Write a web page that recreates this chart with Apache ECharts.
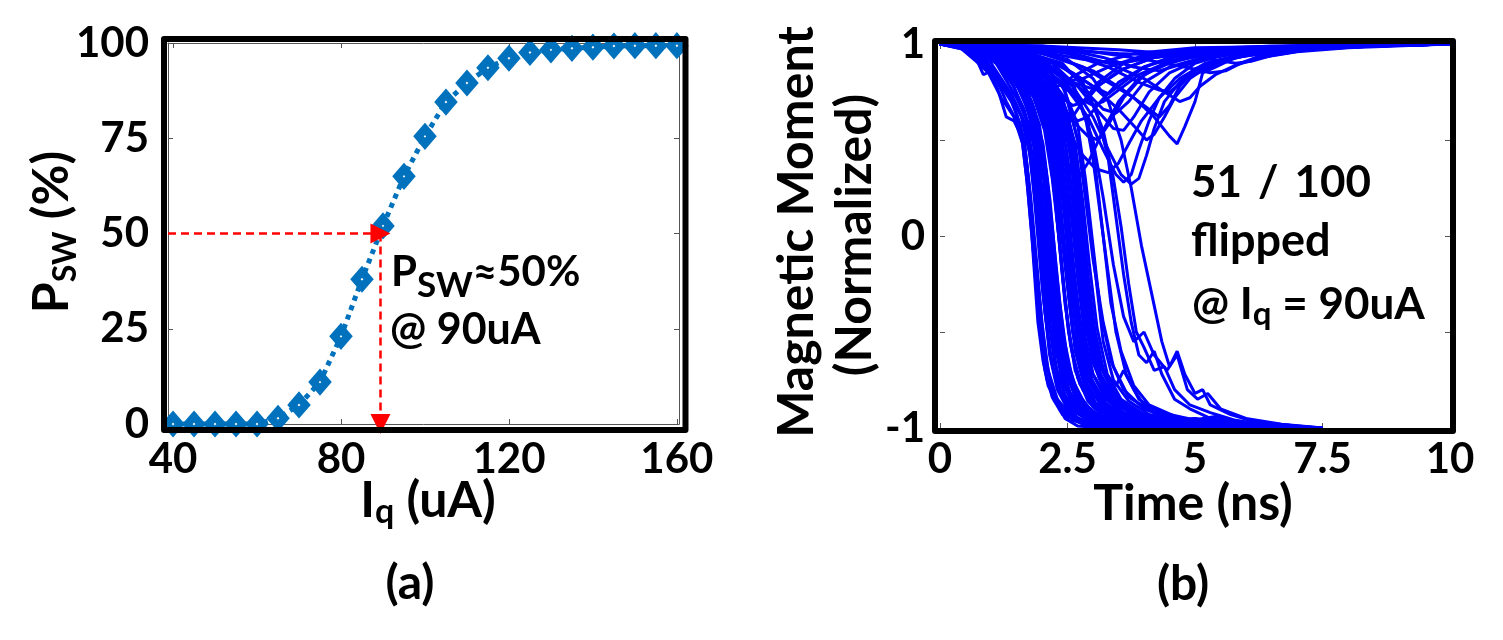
<!DOCTYPE html>
<html><head><meta charset="utf-8">
<script src="https://cdn.jsdelivr.net/npm/echarts@6/dist/echarts.min.js"></script>
<style>html,body{margin:0;padding:0;background:#fff}#c{width:1503px;height:640px}</style>
</head><body><div id="c"></div>
<script>
// ---------- Panel (a) data ----------
const currentUA = [40,45,50,55,60,65,70,75,80,85,90,95,100,105,110,115,120,125,130,135,140,145,150,155,160];
const pswPercent = [0,0,0,0,0,1.5,5,11,23,38,52,65,75.5,84.5,89.5,93.5,96,97.5,98.2,98.6,98.9,99.2,99.3,99.3,99.3];
const xTicksA = [40,80,120,160];
const arrowX = 89.4, arrowY = 50;

// ---------- Panel (b) data: trajectories [time ns, normalized moment] ----------
const flippedRuns = [
 [[0,1],[0.4,0.99],[0.7,0.93],[0.85,0.84],[1.0,0.86],[1.15,0.75],[1.3,0.62],[1.45,0.6],[1.6,0.52],[1.7,0.3],[1.8,0.0],[1.92,-0.45],[2.02,-0.65],[2.12,-0.78],[2.3,-0.87],[2.45,-0.95],[2.7,-0.99],[3.2,-1],[4,-1],[5,-1],[6,-1]],
 [[0,1],[0.5,0.98],[0.8,0.9],[1.1,0.82],[1.3,0.7],[1.5,0.6],[1.65,0.5],[1.75,0.25],[1.9,-0.2],[2.05,-0.6],[2.2,-0.8],[2.4,-0.9],[2.6,-0.96],[3.0,-0.99],[4.5,-1],[6.2,-1]],
 [[0,1],[0.6,0.98],[1.0,0.9],[1.3,0.78],[1.6,0.62],[1.75,0.45],[1.85,0.2],[2.0,-0.25],[2.15,-0.62],[2.3,-0.8],[2.5,-0.9],[2.8,-0.97],[3.5,-0.99],[5,-1],[6.5,-1]],
 [[0,1],[0.7,0.97],[1.1,0.9],[1.5,0.72],[1.8,0.55],[1.95,0.3],[2.1,-0.1],[2.25,-0.5],[2.4,-0.75],[2.6,-0.88],[2.9,-0.95],[3.4,-0.99],[5.5,-1],[6.8,-1]],
 [[0,1],[0.8,0.97],[1.3,0.88],[1.7,0.7],[1.95,0.5],[2.1,0.2],[2.25,-0.2],[2.4,-0.55],[2.55,-0.75],[2.8,-0.88],[3.1,-0.95],[3.6,-0.99],[5.2,-1],[7.0,-1]],
 [[0,1],[0.9,0.97],[1.4,0.9],[1.8,0.75],[2.05,0.55],[2.2,0.3],[2.35,-0.05],[2.5,-0.45],[2.65,-0.7],[2.9,-0.86],[3.2,-0.94],[3.8,-0.98],[5.0,-1],[6.6,-1]],
 [[0,1],[1.0,0.97],[1.5,0.88],[1.9,0.72],[2.15,0.5],[2.3,0.2],[2.45,-0.15],[2.6,-0.5],[2.8,-0.74],[3.0,-0.86],[3.4,-0.94],[4.0,-0.98],[5.5,-1],[7.2,-1]],
 [[0,1],[1.0,0.98],[1.6,0.9],[2.0,0.75],[2.25,0.55],[2.4,0.25],[2.55,-0.1],[2.7,-0.45],[2.9,-0.7],[3.15,-0.85],[3.5,-0.93],[4.1,-0.98],[6.0,-1],[7.4,-1]],
 [[0,1],[1.1,0.98],[1.7,0.9],[2.1,0.76],[2.35,0.58],[2.5,0.3],[2.65,-0.05],[2.8,-0.4],[3.0,-0.66],[3.25,-0.82],[3.6,-0.92],[4.3,-0.97],[5.8,-1],[7.0,-1]],
 [[0,1],[1.2,0.98],[1.8,0.9],[2.2,0.78],[2.45,0.6],[2.6,0.35],[2.75,0.0],[2.9,-0.35],[3.1,-0.62],[3.35,-0.8],[3.7,-0.91],[4.4,-0.97],[6.0,-1],[7.5,-1]],
 [[0,1],[1.2,0.97],[1.9,0.88],[2.3,0.75],[2.55,0.55],[2.7,0.25],[2.85,-0.1],[3.0,-0.45],[3.2,-0.7],[3.45,-0.78],[3.6,-0.7],[3.8,-0.8],[4.0,-0.88],[4.5,-0.93],[5.2,-0.97],[6.3,-1]],
 [[0,1],[1.3,0.98],[2.0,0.9],[2.4,0.78],[2.7,0.58],[2.85,0.3],[3.0,-0.05],[3.15,-0.4],[3.35,-0.65],[3.6,-0.8],[4.0,-0.9],[4.6,-0.96],[5.5,-0.99],[7.0,-1]],
 [[0,1],[1.4,0.98],[2.1,0.9],[2.6,0.78],[2.9,0.6],[3.05,0.35],[3.2,0.0],[3.35,-0.35],[3.55,-0.6],[3.8,-0.78],[4.1,-0.88],[4.7,-0.95],[5.6,-0.99],[7.2,-1]],
 [[0,1],[1.5,0.98],[2.3,0.9],[2.8,0.8],[3.1,0.62],[3.3,0.4],[3.45,0.1],[3.6,-0.2],[3.75,-0.45],[3.9,-0.62],[4.05,-0.66],[4.2,-0.6],[4.35,-0.72],[4.6,-0.85],[4.9,-0.9],[5.3,-0.95],[6.0,-0.98],[7.3,-1]],
 [[0,1],[1.6,0.98],[2.5,0.92],[3.0,0.82],[3.3,0.7],[3.55,0.5],[3.75,0.25],[3.95,-0.05],[4.15,-0.3],[4.35,-0.55],[4.5,-0.68],[4.65,-0.6],[4.8,-0.72],[5.0,-0.82],[5.15,-0.8],[5.3,-0.88],[5.7,-0.93],[6.2,-0.97],[7.0,-0.99],[7.5,-1]],
 [[0,1],[1.5,0.97],[2.4,0.9],[2.9,0.75],[3.2,0.55],[3.4,0.3],[3.55,0.05],[3.7,-0.25],[3.85,-0.5],[4.0,-0.58],[4.2,-0.7],[4.4,-0.68],[4.6,-0.8],[4.9,-0.88],[5.3,-0.92],[5.8,-0.96],[6.5,-0.99],[7.4,-1]],
 [[0,1],[1.1,0.97],[1.7,0.87],[2.0,0.7],[2.2,0.48],[2.35,0.15],[2.5,-0.25],[2.65,-0.6],[2.85,-0.8],[3.1,-0.9],[3.5,-0.96],[4.2,-0.99],[6.1,-1]],
 [[0,1],[0.9,0.96],[1.5,0.85],[1.85,0.65],[2.05,0.4],[2.2,0.05],[2.35,-0.35],[2.5,-0.65],[2.7,-0.82],[3.0,-0.92],[3.5,-0.97],[4.5,-1],[6.4,-1]],
 [[0,1],[1.2,0.98],[2.0,0.88],[2.5,0.7],[2.75,0.45],[2.9,0.15],[3.05,-0.2],[3.2,-0.55],[3.4,-0.75],[3.7,-0.86],[4.1,-0.93],[4.8,-0.97],[5.8,-0.99],[6.9,-1]],
 [[0,1],[1.4,0.97],[2.2,0.88],[2.7,0.72],[3.0,0.5],[3.2,0.2],[3.4,-0.15],[3.6,-0.42],[3.8,-0.55],[4.0,-0.5],[4.2,-0.62],[4.45,-0.7],[4.65,-0.62],[4.85,-0.8],[5.05,-0.85],[5.25,-0.82],[5.5,-0.9],[6.0,-0.95],[6.7,-0.98],[7.5,-1]],
 [[0,1],[1.3,0.98],[2.2,0.9],[2.6,0.8],[2.85,0.62],[3.0,0.4],[3.15,0.1],[3.3,-0.2],[3.45,-0.5],[3.65,-0.72],[3.9,-0.85],[4.3,-0.92],[5.0,-0.97],[6.2,-1]],
 [[0,1],[0.8,0.96],[1.4,0.86],[1.75,0.68],[1.9,0.45],[2.05,0.1],[2.2,-0.3],[2.35,-0.62],[2.5,-0.8],[2.75,-0.9],[3.1,-0.96],[4.0,-0.99],[5.5,-1]],
 [[0,1],[1.0,0.97],[1.6,0.88],[2.0,0.72],[2.25,0.45],[2.45,0.12],[2.6,-0.2],[2.8,-0.52],[3.0,-0.72],[3.3,-0.85],[3.8,-0.93],[4.5,-0.97],[5.5,-0.99],[6.8,-1]],
 [[0,1],[1.3,0.98],[2.0,0.9],[2.45,0.76],[2.7,0.5],[2.85,0.2],[3.0,-0.12],[3.2,-0.45],[3.4,-0.68],[3.7,-0.84],[4.2,-0.92],[5.0,-0.97],[6.0,-0.99],[7.3,-1]],
 [[0,1],[0.5,0.98],[0.9,0.9],[1.2,0.8],[1.45,0.68],[1.65,0.5],[1.78,0.2],[1.9,-0.15],[2.0,-0.45],[2.12,-0.7],[2.3,-0.85],[2.55,-0.93],[3.0,-0.98],[4.0,-1],[5.8,-1]],
 [[0,1],[0.6,0.97],[1.0,0.88],[1.35,0.76],[1.6,0.62],[1.78,0.4],[1.9,0.1],[2.02,-0.3],[2.15,-0.6],[2.3,-0.78],[2.55,-0.9],[2.9,-0.96],[3.6,-0.99],[6.0,-1]],
 [[0,1],[0.7,0.98],[1.1,0.9],[1.45,0.78],[1.7,0.6],[1.85,0.35],[1.97,0.02],[2.1,-0.38],[2.25,-0.66],[2.45,-0.83],[2.7,-0.92],[3.1,-0.97],[4.2,-1],[6.3,-1]],
 [[0,1],[0.6,0.99],[1.2,0.92],[1.55,0.8],[1.8,0.62],[1.95,0.38],[2.07,0.05],[2.2,-0.35],[2.35,-0.63],[2.55,-0.82],[2.85,-0.92],[3.3,-0.97],[4.4,-1],[6.6,-1]],
 [[0,1],[0.8,0.98],[1.2,0.9],[1.6,0.78],[1.88,0.58],[2.03,0.3],[2.15,-0.05],[2.28,-0.42],[2.43,-0.68],[2.65,-0.84],[2.95,-0.93],[3.5,-0.98],[4.6,-1],[6.9,-1]],
 [[0,1],[0.9,0.98],[1.35,0.9],[1.7,0.77],[1.95,0.58],[2.1,0.3],[2.22,-0.05],[2.35,-0.42],[2.5,-0.68],[2.72,-0.84],[3.05,-0.93],[3.6,-0.98],[5.0,-1],[7.1,-1]],
 [[0,1],[0.9,0.97],[1.4,0.87],[1.8,0.7],[2.02,0.48],[2.16,0.18],[2.28,-0.18],[2.42,-0.52],[2.6,-0.75],[2.85,-0.88],[3.2,-0.95],[3.9,-0.99],[5.3,-1],[6.4,-1]],
 [[0,1],[1.0,0.98],[1.5,0.89],[1.85,0.74],[2.1,0.52],[2.25,0.22],[2.38,-0.15],[2.52,-0.5],[2.7,-0.74],[2.95,-0.87],[3.3,-0.94],[4.0,-0.98],[5.6,-1],[7.3,-1]],
 [[0,1],[1.0,0.97],[1.55,0.88],[1.95,0.72],[2.2,0.5],[2.35,0.2],[2.48,-0.15],[2.62,-0.5],[2.8,-0.73],[3.05,-0.87],[3.4,-0.94],[4.1,-0.98],[5.5,-1],[6.7,-1]],
 [[0,1],[1.1,0.98],[1.6,0.9],[2.0,0.75],[2.28,0.52],[2.43,0.22],[2.56,-0.12],[2.7,-0.46],[2.88,-0.7],[3.12,-0.85],[3.5,-0.93],[4.2,-0.98],[5.0,-0.95],[5.8,-0.99],[7.0,-1]],
 [[0,1],[1.1,0.97],[1.7,0.88],[2.1,0.72],[2.35,0.5],[2.5,0.18],[2.63,-0.18],[2.78,-0.52],[2.98,-0.75],[3.25,-0.87],[3.65,-0.94],[4.4,-0.98],[6.0,-1],[7.2,-1]],
 [[0,1],[1.2,0.98],[1.75,0.9],[2.15,0.76],[2.42,0.55],[2.58,0.25],[2.7,-0.08],[2.85,-0.42],[3.05,-0.68],[3.3,-0.83],[3.7,-0.92],[4.4,-0.97],[5.0,-0.95],[5.6,-0.99],[6.2,-0.97],[7.4,-1]],
 [[0,1],[1.2,0.97],[1.8,0.87],[2.2,0.7],[2.48,0.45],[2.62,0.15],[2.76,-0.2],[2.92,-0.52],[3.12,-0.74],[3.4,-0.86],[3.8,-0.93],[4.6,-0.97],[6.2,-1]],
 [[0,1],[1.3,0.98],[1.9,0.89],[2.3,0.74],[2.55,0.52],[2.7,0.22],[2.83,-0.1],[2.98,-0.45],[3.18,-0.7],[3.45,-0.84],[3.9,-0.92],[4.7,-0.97],[5.4,-0.94],[6.4,-1]],
 [[0,1],[0.4,0.98],[0.75,0.9],[0.95,0.85],[1.2,0.72],[1.45,0.62],[1.62,0.48],[1.72,0.25],[1.83,-0.08],[1.95,-0.48],[2.06,-0.7],[2.2,-0.84],[2.4,-0.93],[2.8,-0.98],[3.5,-1],[5.2,-1]],
 [[0,1],[0.7,0.96],[1.05,0.86],[1.4,0.74],[1.68,0.58],[1.82,0.36],[1.94,0.0],[2.06,-0.4],[2.2,-0.67],[2.38,-0.82],[2.65,-0.92],[3.1,-0.97],[4.0,-1],[6.1,-1]],
 [[0,1],[0.8,0.97],[1.25,0.88],[1.62,0.74],[1.86,0.52],[2.0,0.22],[2.12,-0.15],[2.25,-0.5],[2.42,-0.74],[2.65,-0.87],[3.0,-0.94],[3.7,-0.98],[5.0,-1],[6.9,-1]],
 [[0,1],[1.0,0.98],[1.45,0.9],[1.8,0.78],[2.05,0.6],[2.2,0.35],[2.32,0.02],[2.45,-0.35],[2.6,-0.62],[2.8,-0.8],[3.1,-0.9],[3.6,-0.96],[4.8,-0.99],[6.5,-1]],
 [[0,1],[1.1,0.98],[1.65,0.88],[2.05,0.72],[2.3,0.48],[2.45,0.15],[2.58,-0.22],[2.73,-0.55],[2.92,-0.76],[3.2,-0.88],[3.6,-0.95],[4.3,-0.98],[5.7,-1],[7.1,-1]],
 [[0,1],[1.2,0.97],[1.85,0.88],[2.25,0.72],[2.52,0.5],[2.66,0.2],[2.8,-0.15],[2.95,-0.48],[3.15,-0.72],[3.42,-0.85],[3.85,-0.93],[4.6,-0.97],[5.3,-0.95],[6.0,-1],[7.5,-1]],
 [[0,1],[1.3,0.98],[2.0,0.88],[2.4,0.72],[2.65,0.48],[2.8,0.18],[2.93,-0.15],[3.08,-0.48],[3.28,-0.72],[3.55,-0.85],[4.0,-0.93],[4.8,-0.97],[6.2,-1],[7.3,-1]],
 [[0,1],[0.9,0.97],[1.3,0.9],[1.65,0.77],[1.9,0.6],[2.05,0.35],[2.17,0.0],[2.3,-0.38],[2.46,-0.66],[2.68,-0.83],[3.0,-0.92],[3.5,-0.97],[4.5,-0.99],[6.3,-1]],
 [[0,1],[0.5,0.97],[0.85,0.9],[1.15,0.8],[1.4,0.7],[1.58,0.58],[1.7,0.38],[1.8,0.1],[1.9,-0.3],[2.0,-0.58],[2.1,-0.75],[2.25,-0.86],[2.5,-0.94],[2.9,-0.98],[3.8,-1],[5.6,-1]],
 [[0,1],[0.6,0.98],[1.05,0.92],[1.4,0.8],[1.65,0.66],[1.83,0.48],[1.95,0.2],[2.05,-0.12],[2.17,-0.48],[2.3,-0.72],[2.5,-0.86],[2.8,-0.94],[3.3,-0.98],[4.5,-1],[6.0,-1]],
 [[0,1],[0.8,0.97],[1.25,0.9],[1.6,0.8],[1.85,0.66],[2.02,0.45],[2.14,0.15],[2.25,-0.2],[2.38,-0.55],[2.55,-0.77],[2.8,-0.89],[3.2,-0.95],[3.9,-0.99],[5.4,-1],[6.7,-1]],
 [[0,1],[0.9,0.98],[1.4,0.91],[1.75,0.8],[2.0,0.64],[2.17,0.42],[2.3,0.1],[2.42,-0.25],[2.56,-0.57],[2.74,-0.77],[3.0,-0.89],[3.4,-0.95],[4.2,-0.99],[5.5,-1],[7.0,-1]],
 [[0,1],[1.0,0.97],[1.5,0.9],[1.9,0.78],[2.15,0.62],[2.32,0.4],[2.44,0.1],[2.56,-0.25],[2.7,-0.56],[2.88,-0.77],[3.15,-0.88],[3.55,-0.95],[4.3,-0.99],[5.9,-1],[7.2,-1]],
 [[0,1],[1.1,0.98],[1.6,0.9],[2.0,0.78],[2.27,0.62],[2.45,0.4],[2.58,0.1],[2.7,-0.22],[2.84,-0.52],[3.0,-0.72],[3.25,-0.85],[3.65,-0.93],[4.4,-0.98],[5.2,-0.96],[6.0,-1],[7.3,-1]],
 [[0,1],[1.2,0.98],[1.7,0.9],[2.1,0.79],[2.38,0.64],[2.56,0.42],[2.68,0.12],[2.8,-0.2],[2.95,-0.5],[3.12,-0.72],[3.38,-0.85],[3.8,-0.93],[4.6,-0.98],[6.1,-1],[7.5,-1]],
 [[0,1],[0.7,0.98],[1.15,0.9],[1.5,0.79],[1.75,0.64],[1.9,0.45],[2.01,0.15],[2.12,-0.22],[2.25,-0.56],[2.4,-0.76],[2.62,-0.88],[2.95,-0.95],[3.6,-0.99],[5.0,-1],[6.2,-1]],
 [[0,1],[1.0,0.98],[1.55,0.91],[1.95,0.8],[2.22,0.64],[2.38,0.42],[2.5,0.12],[2.62,-0.22],[2.76,-0.54],[2.94,-0.75],[3.2,-0.87],[3.6,-0.94],[4.3,-0.98],[5.6,-1],[6.9,-1]],
 [[0,1],[1.3,0.98],[1.85,0.91],[2.25,0.8],[2.5,0.64],[2.66,0.42],[2.78,0.12],[2.9,-0.2],[3.04,-0.5],[3.22,-0.72],[3.5,-0.85],[3.95,-0.93],[4.8,-0.98],[6.3,-1]]
];
const unflippedRuns = [
 [[0,1],[1.0,0.99],[2.0,0.95],[2.8,0.88],[3.3,0.8],[3.8,0.72],[4.2,0.62],[4.5,0.52],[4.65,0.48],[4.8,0.57],[5.0,0.7],[5.15,0.85],[5.4,0.88],[5.8,0.93],[6.3,0.95],[7.3,0.98],[8.5,0.99],[10,1]],
 [[0,1],[1.2,0.99],[2.2,0.94],[3.0,0.86],[3.6,0.76],[4.0,0.68],[4.3,0.62],[4.5,0.68],[4.7,0.78],[4.9,0.84],[5.2,0.86],[5.5,0.91],[6.0,0.95],[7.0,0.98],[8.0,0.99],[10,1]],
 [[0,1],[1.0,0.98],[1.8,0.92],[2.4,0.8],[2.9,0.62],[3.2,0.45],[3.45,0.32],[3.6,0.28],[3.75,0.32],[3.9,0.45],[4.1,0.6],[4.3,0.72],[4.6,0.82],[5.0,0.9],[5.5,0.94],[6.5,0.97],[8,0.99],[10,1]],
 [[0,1],[1.2,0.98],[2.0,0.9],[2.6,0.78],[3.0,0.62],[3.3,0.45],[3.55,0.32],[3.75,0.27],[3.9,0.3],[4.05,0.42],[4.2,0.56],[4.4,0.7],[4.7,0.8],[5.0,0.87],[5.5,0.92],[6.2,0.96],[7.5,0.99],[10,1]],
 [[0,1],[1.0,0.99],[2.0,0.93],[2.6,0.85],[3.0,0.78],[3.3,0.74],[3.6,0.8],[4.0,0.88],[4.5,0.93],[5.2,0.96],[6.5,0.98],[8,0.99],[10,1]],
 [[0,1],[0.9,0.98],[1.6,0.9],[2.2,0.75],[2.6,0.6],[2.9,0.52],[3.1,0.5],[3.3,0.58],[3.6,0.72],[4.0,0.84],[4.5,0.9],[5.2,0.95],[6.3,0.98],[8,1],[10,1]],
 [[0,1],[0.8,0.97],[1.4,0.88],[1.9,0.7],[2.3,0.5],[2.55,0.35],[2.7,0.3],[2.9,0.38],[3.2,0.55],[3.5,0.7],[3.9,0.82],[4.4,0.9],[5.0,0.95],[6.0,0.98],[7.5,0.99],[10,1]],
 [[0,1],[1.5,0.99],[2.5,0.96],[3.3,0.9],[4.0,0.82],[4.4,0.75],[4.7,0.7],[4.9,0.72],[5.1,0.78],[5.4,0.84],[5.8,0.89],[6.3,0.93],[7.0,0.96],[8.0,0.98],[10,1]],
 [[0,1],[2,0.99],[3,0.96],[4,0.92],[4.8,0.88],[5.3,0.85],[5.6,0.86],[5.9,0.9],[6.3,0.94],[7,0.97],[8.5,0.99],[10,1]],
 [[0,1],[1.3,0.98],[2.3,0.9],[3.0,0.78],[3.5,0.66],[3.85,0.56],[4.05,0.5],[4.2,0.53],[4.4,0.62],[4.6,0.72],[4.9,0.82],[5.3,0.89],[5.8,0.93],[6.8,0.97],[8.5,0.99],[10,1]],
 [[0,1],[1.5,0.99],[2.5,0.95],[3.3,0.88],[3.9,0.8],[4.3,0.76],[4.5,0.75],[4.7,0.79],[5.0,0.86],[5.4,0.9],[6.0,0.94],[7.0,0.97],[8.5,0.99],[10,1]],
 [[0,1],[1,0.99],[2,0.96],[2.8,0.92],[3.5,0.9],[4.2,0.93],[5,0.96],[6,0.98],[7.5,0.99],[10,1]],
 [[0,1],[1.5,0.99],[2.5,0.97],[3.2,0.93],[3.8,0.88],[4.3,0.86],[4.8,0.9],[5.5,0.95],[6.5,0.98],[8,0.99],[10,1]],
 [[0,1],[0.8,0.98],[1.5,0.93],[2.0,0.85],[2.4,0.8],[2.8,0.82],[3.3,0.88],[4.0,0.94],[5,0.97],[6.5,0.99],[10,1]],
 [[0,1],[1.2,0.99],[2.2,0.97],[3.5,0.95],[4.5,0.94],[5.5,0.96],[6.3,0.97],[7.0,0.98],[8.0,0.99],[10,1]],
 [[0,1],[1.2,0.98],[2.1,0.9],[2.7,0.78],[3.1,0.65],[3.4,0.56],[3.6,0.55],[3.8,0.62],[4.1,0.75],[4.5,0.85],[5.0,0.91],[5.8,0.95],[7.0,0.98],[10,1]],
 [[0,1],[0.9,0.97],[1.6,0.88],[2.1,0.72],[2.5,0.55],[2.8,0.42],[3.05,0.35],[3.3,0.33],[3.5,0.38],[3.7,0.48],[3.95,0.6],[4.3,0.72],[4.7,0.82],[5.2,0.9],[6,0.95],[7.5,0.98],[10,1]],
 [[0,1],[2,0.99],[3.5,0.97],[4.5,0.95],[5.3,0.92],[5.8,0.9],[6.1,0.91],[6.5,0.94],[7.2,0.97],[8.5,0.99],[10,1]],
 [[0,1],[0.7,0.98],[1.2,0.92],[1.6,0.82],[1.9,0.7],[2.15,0.6],[2.35,0.55],[2.5,0.58],[2.75,0.68],[3.1,0.8],[3.6,0.9],[4.3,0.95],[5.5,0.98],[7,0.99],[10,1]],
 [[0,1],[0.9,0.98],[1.5,0.9],[2.0,0.78],[2.4,0.66],[2.7,0.6],[2.9,0.62],[3.15,0.7],[3.5,0.8],[4.0,0.88],[4.7,0.94],[6.0,0.98],[10,1]],
 [[0,1],[1.1,0.98],[1.8,0.9],[2.3,0.8],[2.7,0.72],[3.0,0.68],[3.2,0.7],[3.5,0.76],[3.9,0.84],[4.5,0.91],[5.4,0.95],[7.0,0.98],[10,1]],
 [[0,1],[0.6,0.98],[1.0,0.93],[1.4,0.85],[1.7,0.78],[1.95,0.74],[2.2,0.76],[2.6,0.83],[3.1,0.9],[3.8,0.95],[5.0,0.98],[10,1]],
 [[0,1],[1.0,0.98],[1.7,0.93],[2.2,0.86],[2.6,0.8],[2.95,0.77],[3.2,0.8],[3.6,0.87],[4.2,0.93],[5.2,0.97],[7,0.99],[10,1]],
 [[0,1],[1.2,0.98],[2.0,0.9],[2.5,0.82],[2.9,0.74],[3.2,0.66],[3.45,0.64],[3.7,0.7],[4.0,0.8],[4.5,0.88],[5.3,0.94],[7,0.98],[10,1]],
 [[0,1],[0.8,0.98],[1.4,0.92],[1.9,0.84],[2.3,0.74],[2.6,0.68],[2.85,0.7],[3.1,0.78],[3.5,0.86],[4.2,0.93],[5.5,0.97],[10,1]]
];

// ---------- layout / style ----------
const FONT = 'Lato';
const GA = {left:168, top:43, width:511, height:381};
const GB = {left:940, top:44, width:510, height:384};
const BLUE_A = '#0072BD', BLUE_B = '#0000FF';

function subRich(M, s, d) {
  const p = d + 0.8 * (M - s);
  return {
    m: {fontFamily: FONT, fontWeight: 'bold', fontSize: M, lineHeight: M, verticalAlign: 'top', fill: '#000'},
    w: {fontFamily: FONT, fontWeight: 'bold', fontSize: M, lineHeight: M, verticalAlign: 'top', fill: '#000', padding: [0, 16, 0, 16]},
    s: {fontFamily: FONT, fontWeight: 'bold', fontSize: s, lineHeight: s, verticalAlign: 'top', padding: [p, 0, 0, 0], fill: '#000'}
  };
}
function txt(x, y, text, M, opts) {
  opts = opts || {};
  return {
    type: 'text', x: x, y: y, rotation: opts.rot || 0, z: 200, silent: true,
    style: {
      text: text, rich: subRich(M, opts.s || 30, opts.d || 6),
      align: opts.align || 'center', verticalAlign: 'middle'
    }
  };
}
const labelStyle = {fontFamily: FONT, fontWeight: 'bold', fontSize: 42, color: '#000'};
const tickStyle = {lineStyle: {color: '#555', width: 1}};

const series = [];
series.push({
  type: 'line', xAxisIndex: 0, yAxisIndex: 0, clip: false, z: 3, animation: false,
  data: currentUA.map((x, i) => [x, pswPercent[i]]),
  symbol: 'diamond', symbolSize: [13, 15], showAllSymbol: true,
  itemStyle: {color: '#fff', borderColor: BLUE_A, borderWidth: 8},
  lineStyle: {color: BLUE_A, width: 5, type: [5, 5]},
  markLine: {
    silent: true, animation: false, symbol: ['none', 'triangle'], symbolSize: 20,
    label: {show: false},
    lineStyle: {color: '#FF0000', width: 2.5, type: [8, 5]},
    emphasis: {disabled: true},
    data: [
      [{coord: [38.8, arrowY]}, {coord: [arrowX, arrowY]}],
      [{coord: [arrowX, arrowY]}, {coord: [arrowX, 0]}]
    ]
  }
});
flippedRuns.concat(unflippedRuns).forEach(run => {
  series.push({
    type: 'line', xAxisIndex: 2, yAxisIndex: 2, data: run, symbol: 'none', silent: true,
    animation: false, z: 2, lineStyle: {color: BLUE_B, width: 3}
  });
});

const noLine = {show: false, onZero: false};
const thinLine = {show: true, onZero: false, lineStyle: {color: '#555', width: 1}};
const option = {
  backgroundColor: '#fff',
  animation: false,
  grid: [
    Object.assign({outerBoundsMode: 'none', containLabel: false}, GA),
    Object.assign({outerBoundsMode: 'none', containLabel: false}, GB)
  ],
  xAxis: [
    {gridIndex: 0, type: 'value', min: 38.8, max: 160.5, position: 'bottom', axisLine: thinLine,
     axisTick: Object.assign({inside: true, length: 5, customValues: xTicksA}, tickStyle),
     axisLabel: Object.assign({margin: 14, customValues: xTicksA}, labelStyle),
     splitLine: {show: false}},
    {gridIndex: 0, type: 'value', min: 38.8, max: 160.5, position: 'top', axisLine: thinLine,
     axisTick: Object.assign({inside: true, length: 5, customValues: xTicksA}, tickStyle),
     axisLabel: {show: false}, splitLine: {show: false}},
    {gridIndex: 1, type: 'value', min: 0, max: 10, interval: 2.5, position: 'bottom', axisLine: noLine,
     axisTick: Object.assign({inside: true, length: 5}, tickStyle),
     axisLabel: Object.assign({margin: 10}, labelStyle), splitLine: {show: false}},
    {gridIndex: 1, type: 'value', min: 0, max: 10, interval: 2.5, position: 'top', axisLine: noLine,
     axisTick: Object.assign({inside: true, length: 5}, tickStyle),
     axisLabel: {show: false}, splitLine: {show: false}}
  ],
  yAxis: [
    {gridIndex: 0, type: 'value', min: 0, max: 100, interval: 25, position: 'left', axisLine: thinLine,
     axisTick: Object.assign({show: true, inside: true, length: 5}, tickStyle),
     axisLabel: Object.assign({margin: 19}, labelStyle), splitLine: {show: false}},
    {gridIndex: 0, type: 'value', min: 0, max: 100, interval: 25, position: 'right', axisLine: thinLine,
     axisTick: Object.assign({show: true, inside: true, length: 5}, tickStyle),
     axisLabel: {show: false}, splitLine: {show: false}},
    {gridIndex: 1, type: 'value', min: -1, max: 1, interval: 0.5, position: 'left', axisLine: noLine,
     axisTick: Object.assign({show: true, inside: true, length: 5}, tickStyle),
     axisLabel: Object.assign({margin: 15, formatter: v => (Number.isInteger(v) ? String(v) : '')}, labelStyle),
     splitLine: {show: false}},
    {gridIndex: 1, type: 'value', min: -1, max: 1, interval: 0.5, position: 'right', axisLine: noLine,
     axisTick: Object.assign({show: true, inside: true, length: 5}, tickStyle),
     axisLabel: {show: false}, splitLine: {show: false}}
  ],
  series: series,
  graphic: [
    {type: 'rect', z: 100, silent: true, shape: {x: 164, y: 39, width: 521.5, height: 391},
     style: {fill: 'none', stroke: '#000', lineWidth: 6, lineJoin: 'round'}},
    {type: 'rect', z: 100, silent: true, shape: {x: 935, y: 41, width: 518, height: 390},
     style: {fill: 'none', stroke: '#000', lineWidth: 6, lineJoin: 'round'}},
    txt(52, 232, '{m|P}{s|SW}{m| (%)}', 50, {rot: Math.PI / 2, s: 32, d: 8}),
    txt(428, 501, '{m|I}{s|q}{m| (uA)}', 50, {s: 34, d: 6}),
    txt(410, 584, '{m|(a)}', 48),
    txt(797, 232, '{m|Magnetic Moment}', 50, {rot: Math.PI / 2}),
    txt(855, 235, '{m|(Normalized)}', 50, {rot: Math.PI / 2}),
    txt(1193, 504, '{m|Time (ns)}', 50),
    txt(1183, 585, '{m|(b)}', 48),
    txt(391, 272, '{m|P}{s|SW}{m|≈50%}', 42, {align: 'left', s: 35, d: 12}),
    txt(390, 330, '{m|@ 90uA}', 43, {align: 'left'}),
    txt(1191, 183, '{m|51}{w|/}{m|100}', 44, {align: 'left'}),
    txt(1191, 241, '{m|flipped}', 45, {align: 'left'}),
    txt(1192, 305, '{m|@ I}{s|q}{m| = 90uA}', 44, {align: 'left', s: 33, d: 6})
  ]
};
const chart = echarts.init(document.getElementById('c'), null, {renderer: 'canvas'});
chart.setOption(option);
</script></body></html>
